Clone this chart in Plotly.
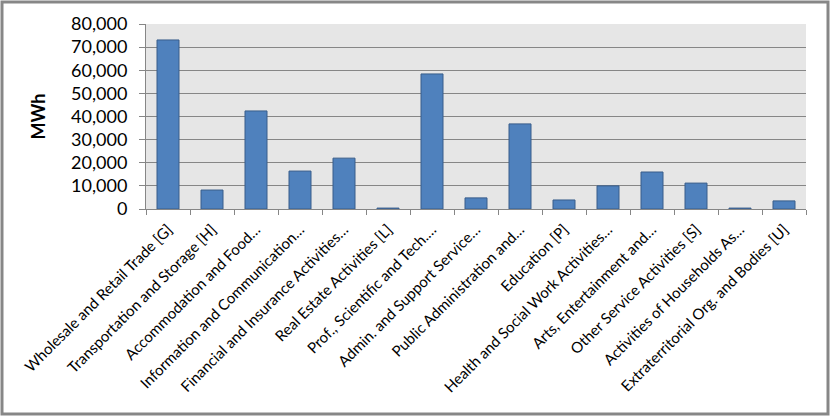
import plotly.graph_objects as go

categories = [
    "Wholesale and Retail Trade [G]",
    "Transportation and Storage [H]",
    "Accommodation and Food…",
    "Information and Communication…",
    "Financial and Insurance Activities…",
    "Real Estate Activities [L]",
    "Prof., Scientific and Tech.…",
    "Admin. and Support Service…",
    "Public Administration and…",
    "Education [P]",
    "Health and Social Work Activities…",
    "Arts, Entertainment and…",
    "Other Service Activities [S]",
    "Activities of Households As…",
    "Extraterritorial Org. and Bodies [U]",
]
values = [73100, 8200, 42400, 16400, 22000, 400, 58400, 4800, 36800, 3900, 10000, 16000, 11200, 400, 3500]
y_ticks = [0, 10000, 20000, 30000, 40000, 50000, 60000, 70000, 80000]

W, H = 831, 417
L, R, T, B = 146, 806, 24, 209

fig = go.Figure(go.Bar(
    x=categories, y=values,
    marker=dict(color="#4f81bd", line=dict(color="#385d8a", width=1)),
))

def px_x(p):
    return (p - L) / (R - L)

def px_y(p):
    return (B - p) / (B - T)

fig.update_layout(
    width=W, height=H,
    margin=dict(l=L, r=W - R, t=T, b=H - B),
    plot_bgcolor="#e6e6e6",
    paper_bgcolor="white",
    bargap=0.5,
    showlegend=False,
    font=dict(family="Lato, Open Sans, sans-serif", color="black"),
    shapes=[dict(
        type="rect", xref="paper", yref="paper",
        x0=px_x(2), x1=px_x(828), y0=px_y(2), y1=px_y(414),
        line=dict(color="#878787", width=3), fillcolor="rgba(0,0,0,0)", layer="above",
    )],
)
fig.update_xaxes(
    tickangle=-45, tickfont=dict(size=15),
    showline=True, linecolor="#868686", linewidth=1,
    ticks="outside", ticklen=5, tickcolor="#868686", tickson="boundaries",
    ticklabelstandoff=5,
    showgrid=False, range=[-0.5, len(categories) - 0.5],
)
fig.update_yaxes(
    range=[0, 80000], tickvals=y_ticks, tickformat=",d",
    tickfont=dict(size=18),
    showgrid=True, gridcolor="#868686", gridwidth=1,
    showline=True, linecolor="#868686", linewidth=1,
    ticks="outside", ticklen=6, tickcolor="#868686",
    ticklabelstandoff=8,
    title=dict(text="<b>MWh</b>", font=dict(size=18), standoff=20),
    zeroline=False,
)
fig.write_html("out.html")
